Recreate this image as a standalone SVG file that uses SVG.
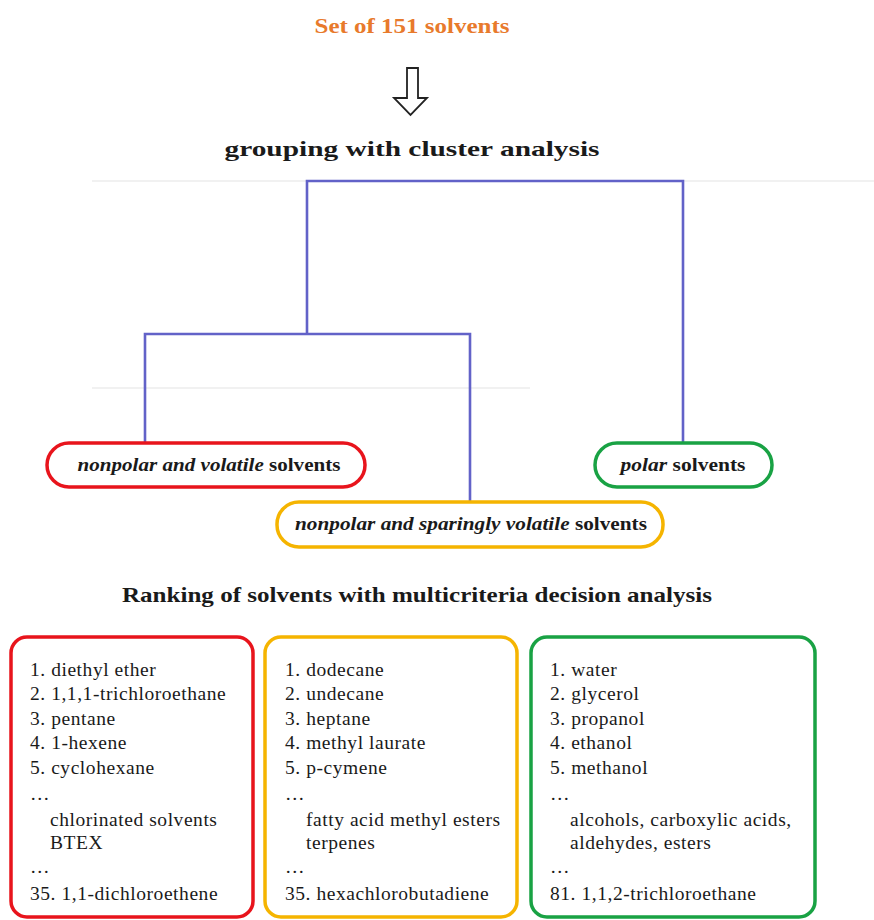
<svg xmlns="http://www.w3.org/2000/svg" width="874" height="920" viewBox="0 0 874 920">
<style>
text{font-family:"Liberation Serif","Times New Roman",serif;fill:#1a1a1a}
.h{font-weight:bold;font-size:22px}
.pill{fill:#fff;stroke-width:3.5}
.pt{font-weight:bold;font-size:19px}
.it{font-style:italic}
.box{fill:#fff;stroke-width:3.5}
.li{font-size:19.5px;letter-spacing:0.55px}
.den{fill:none;stroke:#6262c8;stroke-width:2.6}
.faint{stroke:#ececec;stroke-width:1.5}
</style>
<rect width="874" height="920" fill="#fff"/>
<g id="title">
<text x="412" y="33" class="h" text-anchor="middle" style="fill:#e87a2c" textLength="195" lengthAdjust="spacingAndGlyphs">Set of 151 solvents</text>
<polygon points="407,68 418,68 418,98 427,98 410.5,115 394,98 407,98" fill="#fff" stroke="#222" stroke-width="1.8" stroke-linejoin="miter"/>
<text x="412" y="156" class="h" text-anchor="middle" textLength="375" lengthAdjust="spacingAndGlyphs">grouping with cluster analysis</text>
</g>
<line class="faint" x1="92" y1="181" x2="874" y2="181"/>
<line class="faint" x1="92" y1="388" x2="530" y2="388"/>
<g id="connectors">
<path class="den" d="M307,334 V181 H683 V449"/>
<path class="den" d="M145,443 V334 H470 V502"/>
</g>
<g id="nonpolar-volatile">
<rect class="pill" x="47" y="443" width="318" height="44" rx="22" stroke="#e8141c"/>
<text x="209" y="471" class="pt" text-anchor="middle" textLength="263" lengthAdjust="spacingAndGlyphs"><tspan class="it">nonpolar and volatile</tspan> solvents</text>
</g>
<g id="polar">
<rect class="pill" x="595" y="443" width="177" height="44" rx="22" stroke="#19a244"/>
<text x="683" y="471" class="pt" text-anchor="middle" textLength="125" lengthAdjust="spacingAndGlyphs"><tspan class="it">polar</tspan> solvents</text>
</g>
<g id="nonpolar-sparingly">
<rect class="pill" x="277" y="502" width="386" height="45" rx="22" stroke="#f5b400"/>
<text x="471" y="530" class="pt" text-anchor="middle" textLength="352" lengthAdjust="spacingAndGlyphs"><tspan class="it">nonpolar and sparingly volatile</tspan> solvents</text>
</g>
<g id="ranking-title">
<text x="417" y="602" class="h" text-anchor="middle" textLength="590" lengthAdjust="spacingAndGlyphs">Ranking of solvents with multicriteria decision analysis</text>
</g>
<g id="list-red">
<rect class="box" x="11" y="637" width="242" height="280" rx="16" stroke="#e8141c"/>
<text class="li" x="30" y="676">1. diethyl ether</text>
<text class="li" x="30" y="700">2. 1,1,1-trichloroethane</text>
<text class="li" x="30" y="725">3. pentane</text>
<text class="li" x="30" y="749">4. 1-hexene</text>
<text class="li" x="30" y="774">5. cyclohexane</text>
<text class="li" x="30" y="800">…</text>
<text class="li" x="50" y="826">chlorinated solvents</text>
<text class="li" x="50" y="849">BTEX</text>
<text class="li" x="30" y="873">…</text>
<text class="li" x="30" y="900">35. 1,1-dichloroethene</text>
</g>
<g id="list-yellow">
<rect class="box" x="265" y="637" width="252" height="280" rx="16" stroke="#f5b400"/>
<text class="li" x="285" y="676">1. dodecane</text>
<text class="li" x="285" y="700">2. undecane</text>
<text class="li" x="285" y="725">3. heptane</text>
<text class="li" x="285" y="749">4. methyl laurate</text>
<text class="li" x="285" y="774">5. p-cymene</text>
<text class="li" x="285" y="800">…</text>
<text class="li" x="306" y="826">fatty acid methyl esters</text>
<text class="li" x="306" y="849">terpenes</text>
<text class="li" x="285" y="873">…</text>
<text class="li" x="285" y="900">35. hexachlorobutadiene</text>
</g>
<g id="list-green">
<rect class="box" x="531" y="637" width="284" height="280" rx="16" stroke="#19a244"/>
<text class="li" x="550" y="676">1. water</text>
<text class="li" x="550" y="700">2. glycerol</text>
<text class="li" x="550" y="725">3. propanol</text>
<text class="li" x="550" y="749">4. ethanol</text>
<text class="li" x="550" y="774">5. methanol</text>
<text class="li" x="550" y="800">…</text>
<text class="li" x="570" y="826">alcohols, carboxylic acids,</text>
<text class="li" x="570" y="849">aldehydes, esters</text>
<text class="li" x="550" y="873">…</text>
<text class="li" x="550" y="900">81. 1,1,2-trichloroethane</text>
</g>
</svg>
